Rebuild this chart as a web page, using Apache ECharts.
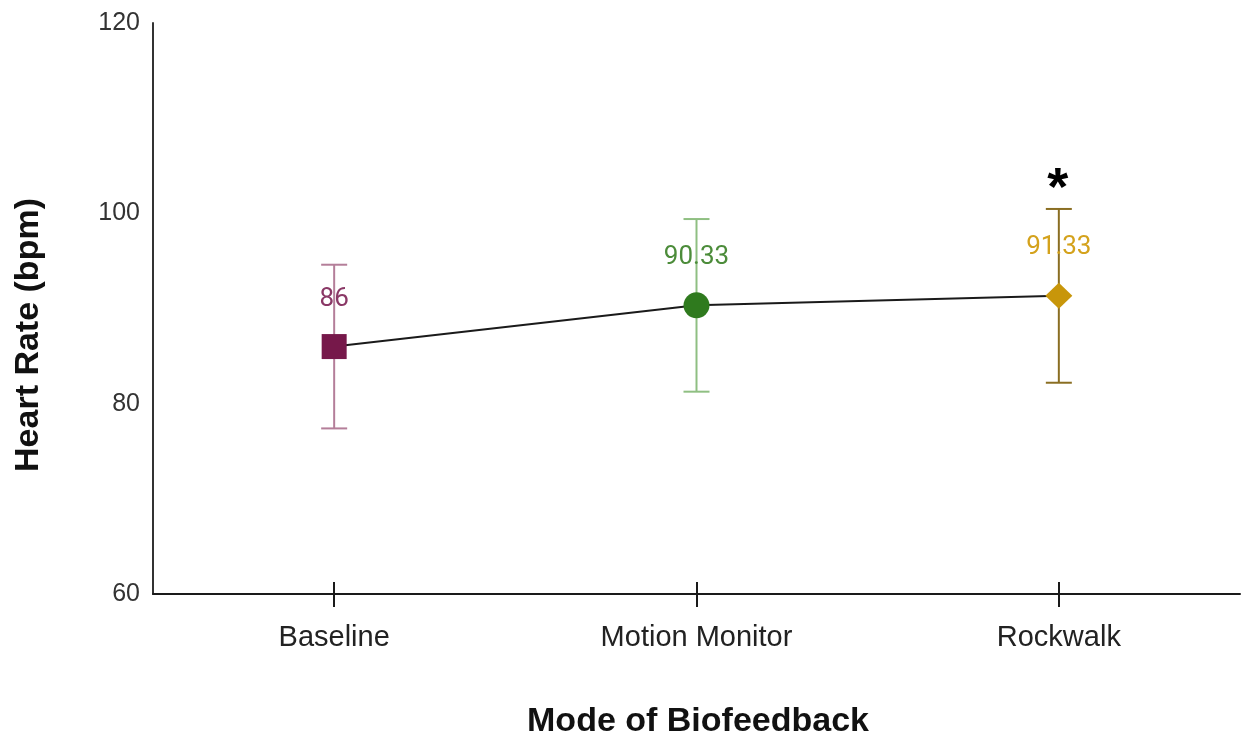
<!DOCTYPE html>
<html>
<head>
<meta charset="utf-8">
<title>Heart Rate by Mode of Biofeedback</title>
<script src="https://cdn.jsdelivr.net/npm/echarts@6/dist/echarts.min.js"></script>
<style>
  html, body { margin: 0; padding: 0; background: #ffffff; }
  #chart { width: 1243px; height: 742px; }
</style>
</head>
<body>
<div id="chart"></div>
<script>
// Mean heart rate per biofeedback mode, with error bar half-widths
const categories = ['Baseline', 'Motion Monitor', 'Rockwalk'];
const means = [86, 90.33, 91.33];
const errors = [8.6, 9.07, 9.13];
const significance = ['', '', '*'];
const yTicks = [60, 80, 100, 120];

// Per-mode styling
const markerShapes = ['rect', 'circle', 'diamond'];
const markerSizes = [[25, 25], [26, 26], [27, 26]];
const markerColors = ['#76184A', '#2F7A1E', '#C8960A'];
const labelColors = ['#8A3866', '#4C8C3A', '#D4A21C'];
const barColors = ['#B47E99', '#8FBF82', '#8A6E22'];

const chart = echarts.init(document.getElementById('chart'), null, { renderer: 'canvas' });

const lineData = means.map((v, i) => ({
  value: v,
  symbol: markerShapes[i],
  symbolSize: markerSizes[i],
  itemStyle: { color: markerColors[i] },
  label: { color: labelColors[i] }
}));

const errorData = means.map((v, i) => [i, v - errors[i], v + errors[i]]);

const option = {
  animation: false,
  backgroundColor: '#ffffff',
  grid: { left: 153, right: 3, top: 23, bottom: 148, containLabel: false },
  xAxis: [
    {
      type: 'category',
      data: categories,
      boundaryGap: true,
      axisLine: { show: true, lineStyle: { color: '#1a1a1a', width: 2 } },
      axisTick: { show: true, alignWithLabel: true, length: 13, lineStyle: { color: '#1a1a1a', width: 2 } },
      axisLabel: { color: '#222222', fontSize: 29, fontFamily: 'Liberation Sans, Arial, sans-serif', margin: 29 },
      splitLine: { show: false }
    },
    {
      type: 'category',
      data: categories,
      position: 'bottom',
      boundaryGap: true,
      axisLine: { show: false },
      axisTick: { show: true, inside: true, alignWithLabel: true, length: 12, lineStyle: { color: '#1a1a1a', width: 2 } },
      axisLabel: { show: false },
      splitLine: { show: false }
    }
  ],
  yAxis: {
    type: 'value',
    min: yTicks[0],
    max: yTicks[yTicks.length - 1],
    interval: yTicks[1] - yTicks[0],
    axisLine: { show: true, lineStyle: { color: '#333333', width: 2 } },
    axisTick: { show: false },
    splitLine: { show: false },
    axisLabel: { color: '#333333', fontSize: 25, fontFamily: 'Liberation Sans, Arial, sans-serif', margin: 13 }
  },
  series: [
    {
      name: 'error',
      type: 'custom',
      z: 2,
      data: errorData,
      renderItem: function (params, api) {
        const idx = api.value(0);
        const lo = api.coord([idx, api.value(1)]);
        const hi = api.coord([idx, api.value(2)]);
        const cap = 13;
        const color = barColors[idx];
        const style = { stroke: color, lineWidth: 2 };
        const children = [
          { type: 'line', shape: { x1: hi[0], y1: hi[1], x2: lo[0], y2: lo[1] }, style: style },
          { type: 'line', shape: { x1: hi[0] - cap, y1: hi[1], x2: hi[0] + cap, y2: hi[1] }, style: style },
          { type: 'line', shape: { x1: lo[0] - cap, y1: lo[1], x2: lo[0] + cap, y2: lo[1] }, style: style }
        ];
        if (significance[idx]) {
          // significance mark sits just above the upper cap
          children.push({
            type: 'text',
            style: {
              text: significance[idx],
              x: hi[0] - 1,
              y: hi[1] + 8,
              align: 'center',
              verticalAlign: 'bottom',
              fill: '#000000',
              font: 'bold 54px "Liberation Sans", Arial, sans-serif'
            }
          });
        }
        return { type: 'group', children: children };
      }
    },
    {
      name: 'Heart Rate',
      type: 'line',
      z: 5,
      data: lineData,
      lineStyle: { color: '#1a1a1a', width: 2 },
      label: {
        show: true,
        position: 'top',
        distance: 22,
        fontSize: 26,
        fontFamily: 'Roboto, sans-serif'
      }
    }
  ],
  graphic: [
    {
      type: 'text',
      x: 29,
      y: 335,
      rotation: Math.PI / 2,
      style: {
        text: 'Heart Rate (bpm)',
        font: 'bold 34px "Liberation Sans", Arial, sans-serif',
        fill: '#111111',
        align: 'center',
        verticalAlign: 'middle'
      }
    },
    {
      type: 'text',
      x: 698,
      y: 722,
      style: {
        text: 'Mode of Biofeedback',
        font: 'bold 34px "Liberation Sans", Arial, sans-serif',
        fill: '#111111',
        align: 'center',
        verticalAlign: 'middle'
      }
    }
  ]
};

chart.setOption(option);
</script>
</body>
</html>
